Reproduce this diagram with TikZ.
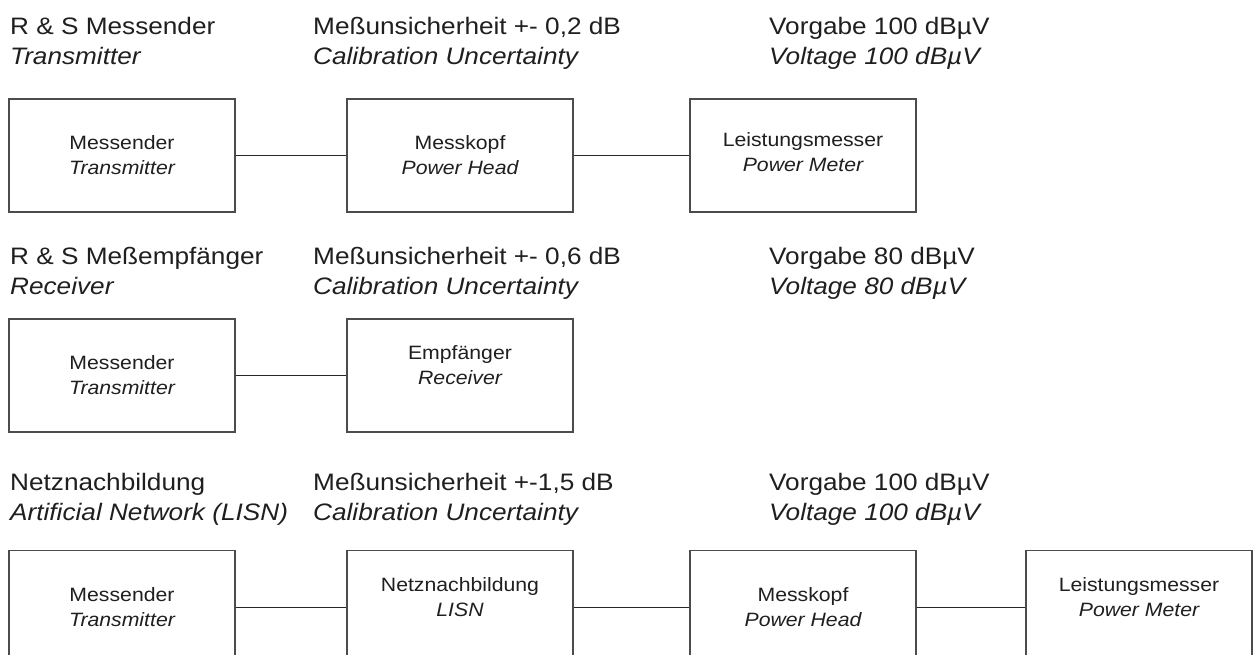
\documentclass[tikz,border=0pt]{standalone}
\usepackage{fontspec}
\setmainfont{Liberation Sans}[FakeStretch=1.1]
\begin{document}
\begin{tikzpicture}[x=1pt,y=-1pt,
  box/.style={draw=black!70,line width=1.2pt,minimum width=226pt,minimum height=113pt,inner sep=0pt},
  boxtext/.style={align=center,inner sep=0pt,text=black!88,font=\fontsize{19.3}{25}\selectfont},
  head/.style={anchor=base west,inner sep=0pt,text=black!88,font=\fontsize{23.8}{30}\selectfont},
  conn/.style={draw=black!85,line width=1pt}]
\clip (0,0) rectangle (1255,655);
\fill[white] (0,0) rectangle (1255,655);
% headers row 1
\node[head] (h11) at (10,35) {R \& S Messender};
\node[head] (h12) at (10,65) {\itshape Transmitter};
\node[head] (h13) at (313,35) {Meßunsicherheit +- 0,2 dB};
\node[head] (h14) at (313,65) {\itshape Calibration Uncertainty};
\node[head] (h15) at (769,35) {Vorgabe 100 dBµV};
\node[head] (h16) at (769,65) {\itshape Voltage 100 dBµV};
% headers row 2
\node[head] (h21) at (10,264) {R \& S Meßempfänger};
\node[head] (h22) at (10,294) {\itshape Receiver};
\node[head] (h23) at (313,264) {Meßunsicherheit +- 0,6 dB};
\node[head] (h24) at (313,294) {\itshape Calibration Uncertainty};
\node[head] (h25) at (769,264) {Vorgabe 80 dBµV};
\node[head] (h26) at (769,294) {\itshape Voltage 80 dBµV};
% headers row 3
\node[head] (h31) at (10,490) {Netznachbildung};
\node[head] (h32) at (10,520) {\itshape Artificial Network (LISN)};
\node[head] (h33) at (313,490) {Meßunsicherheit +-1,5 dB};
\node[head] (h34) at (313,520) {\itshape Calibration Uncertainty};
\node[head] (h35) at (769,490) {Vorgabe 100 dBµV};
\node[head] (h36) at (769,520) {\itshape Voltage 100 dBµV};
% row 1 boxes
\node[box] (a1) at (122,155.5) {};
\node[box] (a2) at (460,155.5) {};
\node[box] (a3) at (803,155.5) {};
\node[boxtext] (ta1) at (a1.center) {Messender\\\itshape Transmitter};
\node[boxtext] (ta2) at (a2.center) {Messkopf\\\itshape Power Head};
\node[boxtext] (ta3) at ([yshift=3pt]a3.center) {Leistungsmesser\\\itshape Power Meter};
\draw[conn] (a1.east) -- (a2.west);
\draw[conn] (a2.east) -- (a3.west);
% row 2 boxes
\node[box] (b1) at (122,375.5) {};
\node[box] (b2) at (460,375.5) {};
\node[boxtext] (tb1) at (b1.center) {Messender\\\itshape Transmitter};
\node[boxtext] (tb2) at ([yshift=10pt]b2.center) {Empfänger\\\itshape Receiver};
\draw[conn] (b1.east) -- (b2.west);
% row 3 boxes
\node[box] (c1) at (122,607) {};
\node[box] (c2) at (460,607) {};
\node[box] (c3) at (803,607) {};
\node[box] (c4) at (1139,607) {};
\node[boxtext] (tc1) at (c1.center) {Messender\\\itshape Transmitter};
\node[boxtext] (tc2) at ([yshift=10pt]c2.center) {Netznachbildung\\\itshape LISN};
\node[boxtext] (tc3) at (c3.center) {Messkopf\\\itshape Power Head};
\node[boxtext] (tc4) at ([yshift=10pt]c4.center) {Leistungsmesser\\\itshape Power Meter};
\draw[conn] (c1.east) -- (c2.west);
\draw[conn] (c2.east) -- (c3.west);
\draw[conn] (c3.east) -- (c4.west);
\end{tikzpicture}
\end{document}
